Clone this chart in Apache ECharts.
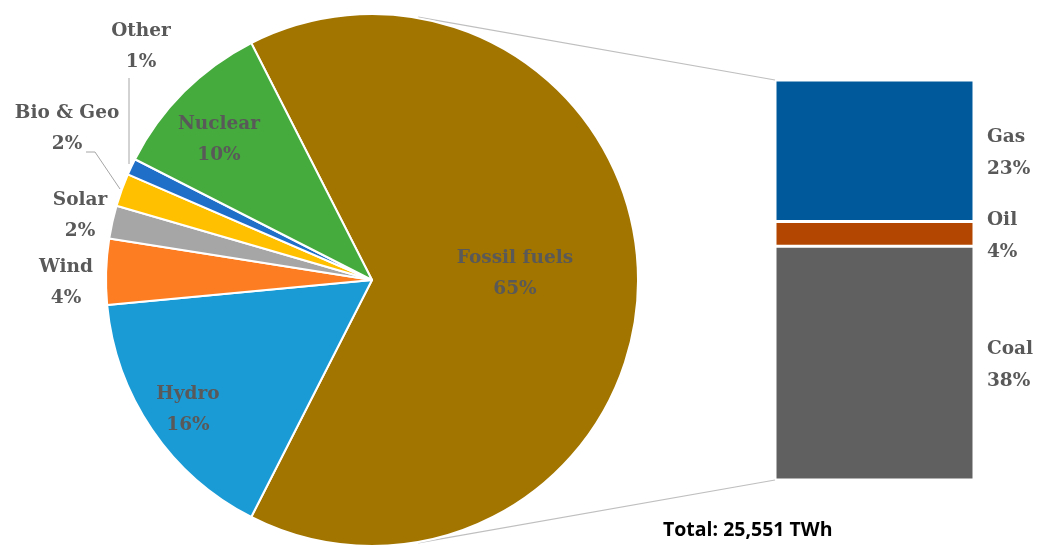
<!DOCTYPE html>
<html>
<head>
<meta charset="utf-8">
<script src="https://cdn.jsdelivr.net/npm/echarts@6/dist/echarts.min.js"></script>
<style>
  html, body { margin: 0; padding: 0; background: #fff; }
  #chart { width: 1040px; height: 546px; }
</style>
</head>
<body>
<div id="chart"></div>
<script>
// Electricity generation by source (share of total, %)
const sourceNames  = ['Fossil fuels', 'Hydro', 'Wind', 'Solar', 'Bio & Geo', 'Other', 'Nuclear'];
const sourceShares = [65, 16, 4, 2, 2, 1, 10];
const sourceColors = ['#A27500', '#1B9BD6', '#FD7E22', '#A6A6A6', '#FFC000', '#1F6EC8', '#45AB3D'];

// Breakdown of fossil fuels (share of total, %), drawn bottom to top
const fossilNames  = ['Coal', 'Oil', 'Gas'];
const fossilShares = [38, 4, 23];
const fossilColors = ['#606060', '#B34600', '#00599A'];

const totalLabel = 'Total: 25,551 TWh';

// Label anchor points (centre of each two-line label) for the pie slices
const labelAnchors = [[515, 274], [188, 410], [66, 283], [80, 216], [67, 129], [141, 47], [219, 140]];

const textGrey = '#595959';
const serifFont = '"DejaVu Serif", serif';

const chart = echarts.init(document.getElementById('chart'), null, { renderer: 'canvas' });

const pieCenter = [372, 280];
const pieRadius = 266;
const fossilSweep = sourceShares[0] / 100 * 360;

const pieData = sourceNames.map((n, i) => ({
  name: n,
  value: sourceShares[i],
  itemStyle: { color: sourceColors[i] }
}));

const barSeries = fossilNames.map((n, i) => ({
  name: n,
  type: 'bar',
  stack: 'fossil',
  xAxisIndex: 0,
  yAxisIndex: 0,
  barWidth: '100%',
  data: [fossilShares[i]],
  itemStyle: { color: fossilColors[i], borderColor: '#fff', borderWidth: 1.5 },
  label: {
    show: true,
    position: 'right',
    distance: 13,
    align: 'left',
    offset: [0, 2],
    formatter: p => p.seriesName + '\n' + p.value + '%',
    color: textGrey,
    fontFamily: serifFont,
    fontWeight: 'bold',
    fontSize: 18.5,
    lineHeight: 32
  },
  silent: true
}));

// Bar extent in pixels (matches the grid below)
const barLeft = 775, barTop = 80, barHeight = 400;

// Point on the pie rim at a given angle (degrees, counter-clockwise from east)
function rimPoint(deg) {
  const r = deg * Math.PI / 180;
  return [pieCenter[0] + pieRadius * Math.cos(r), pieCenter[1] - pieRadius * Math.sin(r)];
}
// connector lines run from the rim (nearly tangent) to the bar corners
const rimTop = rimPoint(80);
const rimBot = rimPoint(-80);

const option = {
  animation: false,
  backgroundColor: '#fff',
  grid: { left: barLeft, top: barTop, width: 199, height: barHeight },
  xAxis: { type: 'category', data: ['Fossil fuels'], show: false },
  yAxis: { type: 'value', min: 0, max: sourceShares[0], show: false },
  graphic: [
    { type: 'line', z: 0, shape: { x1: rimTop[0], y1: rimTop[1] - 1, x2: barLeft, y2: barTop },
      style: { stroke: '#BFBFBF', lineWidth: 1.2 } },
    { type: 'line', z: 0, shape: { x1: rimBot[0], y1: rimBot[1] + 1, x2: barLeft, y2: barTop + barHeight },
      style: { stroke: '#BFBFBF', lineWidth: 1.2 } },
    // leader lines for the small slices
    { type: 'polyline', z: 10, shape: { points: [[129, 78], [129, 164]] },
      style: { stroke: '#A6A6A6', lineWidth: 1, fill: null } },
    { type: 'polyline', z: 10, shape: { points: [[86, 152], [95, 152], [120, 189]] },
      style: { stroke: '#A6A6A6', lineWidth: 1, fill: null } },
    { type: 'text', left: 663, top: 520, z: 10,
      style: { text: totalLabel, fill: '#000', font: 'bold 19.5px "Open Sans", sans-serif' } }
  ],
  series: [
    {
      type: 'pie',
      center: pieCenter,
      radius: pieRadius,
      startAngle: fossilSweep / 2,
      clockwise: true,
      data: pieData,
      silent: true,
      itemStyle: { borderColor: '#fff', borderWidth: 2 },
      label: {
        show: true,
        position: 'inside',
        formatter: '{b}\n{c}%',
        color: textGrey,
        fontFamily: serifFont,
        fontWeight: 'bold',
        fontSize: 18.5,
        lineHeight: 31,
        align: 'center',
        verticalAlign: 'middle'
      },
      labelLine: { show: false },
      labelLayout: p => ({
        x: labelAnchors[p.dataIndex][0],
        y: labelAnchors[p.dataIndex][1],
        align: 'center',
        verticalAlign: 'middle'
      })
    },
    ...barSeries
  ]
};

chart.setOption(option);
</script>
</body>
</html>
